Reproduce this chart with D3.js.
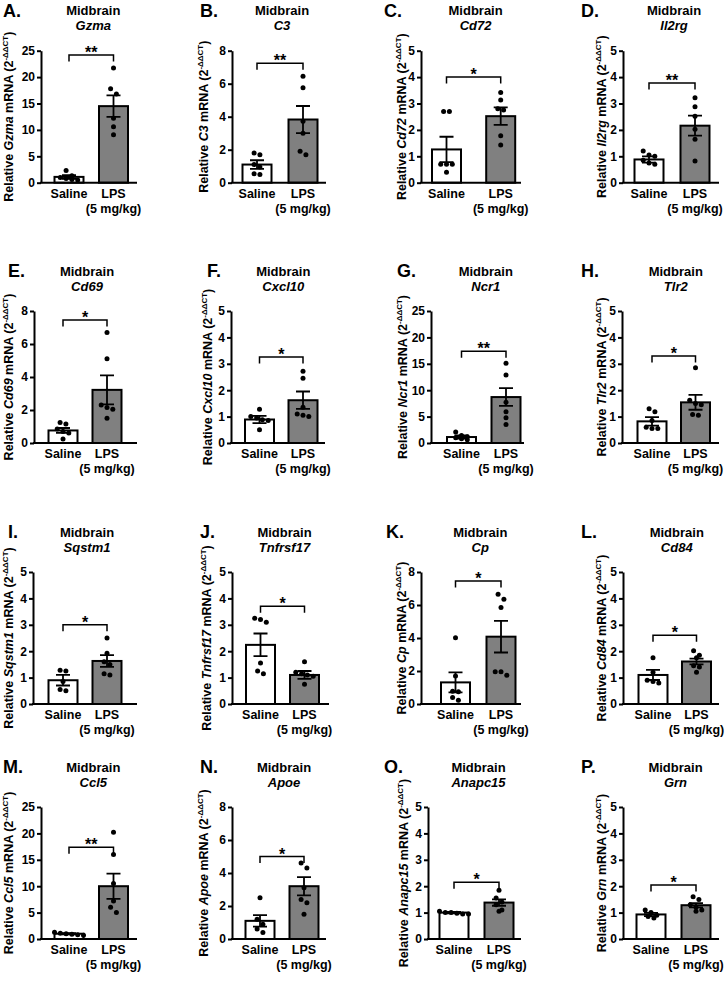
<!DOCTYPE html>
<html><head><meta charset="utf-8">
<script src="https://cdn.jsdelivr.net/npm/d3@7"></script>
<style>
body{margin:0;background:#fff;}
text{font-family:"Liberation Sans",Arial,Helvetica,sans-serif;font-weight:bold;fill:#000;}
</style></head><body>
<svg id="chart" width="727" height="996"></svg>
<script>
// ---------- data ----------
const panelLetters = ["A.","B.","C.","D.","E.","F.","G.","H.","I.","J.","K.","L.","M.","N.","O.","P."];
const region = "Midbrain";
const genes = ["Gzma","C3","Cd72","Il2rg","Cd69","Cxcl10","Ncr1","Tlr2","Sqstm1","Tnfrsf17","Cp","Cd84","Ccl5","Apoe","Anapc15","Grn"];
const groups = ["Saline","LPS"];
const groupLabels = [["Saline"],["LPS","(5 mg/kg)"]];
const yMax  = [25,8,5,5, 8,5,25,5, 5,5,8,5, 25,8,5,5];
const yStep = [5,2,1,1, 2,1,5,1, 1,1,2,1, 5,2,1,1];
const salineMean = [1.1,1.1,1.26,0.88, 0.76,0.89,1.13,0.82, 0.9,2.24,1.31,1.1, 1.0,1.1,1.0,0.93];
const salineSem  = [0.35,0.26,0.48,0.12, 0.15,0.14,0.3,0.16, 0.2,0.43,0.61,0.19, 0.12,0.35,0.03,0.06];
const lpsMean    = [14.5,3.83,2.52,2.16, 3.22,1.62,8.7,1.54, 1.63,1.1,4.08,1.61, 10.0,3.2,1.38,1.28];
const lpsSem     = [2.05,0.82,0.33,0.38, 0.88,0.33,1.68,0.28, 0.22,0.15,0.96,0.11, 2.4,0.55,0.12,0.08];
const salinePoints = [
  [2.3,1.3,1.0,0.8,0.6,0.5],
  [1.8,1.7,1.1,0.95,0.55,0.5],
  [2.7,2.7,0.7,0.7,0.7,0.4],
  [1.2,1.05,1.0,0.85,0.75,0.7],
  [1.25,1.15,0.85,0.7,0.6,0.25],
  [1.28,1.0,0.95,0.88,0.85,0.5],
  [2.1,1.4,1.2,1.0,0.8,0.6],
  [1.3,1.18,0.85,0.6,0.55,0.55],
  [1.28,1.25,0.85,0.55,0.5],
  [3.25,3.2,3.1,1.55,1.25,1.15],
  [4.02,1.7,0.78,0.75,0.4,0.22],
  [1.75,1.2,0.9,0.85,0.8],
  [1.3,1.1,1.0,0.9,0.8,0.7],
  [2.5,1.2,0.9,0.6,0.4],
  [1.05,1.0,1.0,0.98,0.95,0.95],
  [1.1,1.0,0.9,0.85,0.8]
];
const lpsPoints = [
  [21.7,17.8,16.8,12.2,10.6,9.1],
  [6.45,5.75,3.73,3.0,1.9,1.7],
  [3.42,3.13,2.8,2.75,1.78,1.43],
  [3.22,2.88,2.52,2.02,1.65,0.82],
  [6.7,5.1,2.3,2.15,2.05,1.5],
  [2.72,2.45,1.35,1.1,1.05,1.0],
  [15.1,12.9,7.7,5.9,4.8,3.5],
  [2.85,1.62,1.5,1.45,1.08,1.05],
  [2.5,1.92,1.6,1.5,1.15,1.1],
  [1.6,1.2,1.15,1.1,1.05,0.75],
  [6.65,6.35,5.85,1.95,1.95,1.75],
  [2.02,1.85,1.75,1.45,1.4,1.2],
  [20.2,16.0,10.5,7.2,6.0,5.0],
  [4.6,4.3,3.1,2.4,2.2,1.5],
  [1.85,1.55,1.4,1.3,1.1,1.05],
  [1.6,1.5,1.3,1.2,1.1,1.05]
];
const sigLabels = ["**","**","*","**","*","*","**","*","*","*","*","*","**","*","*","*"];
const bracketAt = [24.2,7.24,4.0,3.78, 7.45,3.26,17.4,3.3, 3.0,3.7,7.45,2.6, 17.4,5.0,2.15,2.05];

// ---------- layout (pixels) ----------
const rowTop = [50.7, 311, 572, 807];
const plotH = 132;
// axis x, saline centre, LPS centre, x-axis end, letter x, y-title centre x
const layout = [
  {axis:41, sal:69, lps:113.5, end:137, letter:3, title:9},
  {axis:232, sal:257, lps:303, end:326, letter:200, title:204},
  {axis:421, sal:446.5, lps:500.7, end:521, letter:384, title:402},
  {axis:623, sal:649, lps:695, end:719, letter:581, title:602},
  {axis:34, sal:63, lps:107, end:137, letter:8, title:9},
  {axis:231, sal:259.5, lps:303, end:325, letter:207, title:208},
  {axis:431, sal:461.5, lps:506, end:524, letter:397, title:403},
  {axis:622, sal:652, lps:695.5, end:719, letter:581, title:602},
  {axis:33, sal:63, lps:107, end:137, letter:8, title:9},
  {axis:232, sal:260.5, lps:304.5, end:329, letter:200, title:207},
  {axis:421, sal:455.5, lps:501, end:521, letter:386, title:402},
  {axis:623, sal:653, lps:696.5, end:719, letter:581, title:602},
  {axis:41, sal:69, lps:113.5, end:137, letter:3, title:9},
  {axis:232, sal:260, lps:304, end:326, letter:200, title:204},
  {axis:428, sal:454, lps:499, end:521, letter:384, title:404},
  {axis:623, sal:651, lps:696, end:719, letter:581, title:602}
];
const barW = 29, capW = 14, R = 2.5;
const FONT = '"Liberation Sans",Arial,Helvetica,sans-serif';

const svg = d3.select("#chart");

function dodge(vals, y, cx) {
  const sorted = vals.map(v => ({v, py: y(v)})).sort((a,b)=>a.py-b.py);
  const out = [];
  let i = 0;
  const gap = 2*R + 0.8;
  while (i < sorted.length) {
    const cl = [sorted[i]];
    let j = i+1;
    while (j < sorted.length && sorted[j].py - sorted[i].py < gap) { cl.push(sorted[j]); j++; }
    cl.forEach((p,k)=> out.push({px: cx + (k - (cl.length-1)/2)*gap, py: p.py}));
    i = j;
  }
  return out;
}

genes.forEach((gene, i) => {
  const L = layout[i];
  const row = Math.floor(i/4);
  const top = rowTop[row], zero = top + plotH;
  const y = d3.scaleLinear().domain([0, yMax[i]]).range([zero, top]);
  const x = d3.scalePoint().domain(groups).range([L.sal, L.lps]);
  const g = svg.append("g");
  const means = [salineMean[i], lpsMean[i]];
  const sems = [salineSem[i], lpsSem[i]];
  const pts = [salinePoints[i], lpsPoints[i]];

  // bars
  g.selectAll("rect.bar").data(groups).join("rect")
    .attr("x", d => x(d) - barW/2)
    .attr("y", (d,k) => y(means[k]))
    .attr("width", barW)
    .attr("height", (d,k) => zero - y(means[k]))
    .attr("fill", (d,k) => k === 0 ? "#ffffff" : "#808080")
    .attr("stroke", "#000").attr("stroke-width", 2);

  // error bars
  groups.forEach((grp, k) => {
    const cx = x(grp), lo = y(means[k]-sems[k]), hi = y(means[k]+sems[k]);
    g.append("path")
      .attr("d", `M${cx},${lo}V${hi}M${cx-capW/2},${hi}H${cx+capW/2}M${cx-capW/2},${lo}H${cx+capW/2}`)
      .attr("stroke","#000").attr("stroke-width",1.8).attr("fill","none");
  });

  // y axis
  const ax = g.append("g").attr("transform", `translate(${L.axis},0)`)
    .call(d3.axisLeft(y).tickValues(d3.range(0, yMax[i] + 1e-9, yStep[i]))
      .tickFormat(d3.format("d")).tickSize(4).tickSizeOuter(0).tickPadding(2));
  ax.attr("font-size", 12).attr("font-family", FONT);
  ax.select(".domain").attr("stroke","#000").attr("stroke-width",2);
  ax.selectAll(".tick line").attr("stroke","#000").attr("stroke-width",2);
  ax.selectAll(".tick text").attr("fill","#000");

  // x axis
  g.append("line").attr("x1", L.axis-1).attr("x2", L.end).attr("y1", zero).attr("y2", zero)
    .attr("stroke","#000").attr("stroke-width",2);

  // points
  groups.forEach((grp, k) => {
    const dp = dodge(pts[k], y, x(grp));
    g.selectAll(null).data(dp).join("circle")
      .attr("cx", d => d.px).attr("cy", d => d.py).attr("r", R).attr("fill","#000");
  });

  // x labels
  groups.forEach((grp, k) => {
    groupLabels[k].forEach((t, m) => {
      g.append("text").attr("x", x(grp)).attr("y", zero + 11 + m*15).attr("dy","0.35em")
        .attr("text-anchor","middle").attr("font-size",12.5).text(t);
    });
  });

  // significance bracket
  const by = y(bracketAt[i]);
  g.append("path").attr("d", `M${x("Saline")},${by+6.5}V${by}H${x("LPS")}V${by+6.5}`)
    .attr("stroke","#000").attr("stroke-width",1.5).attr("fill","none");
  g.append("text").attr("x", (x("Saline")+x("LPS"))/2).attr("y", by + 3)
    .attr("text-anchor","middle").attr("font-size",16).text(sigLabels[i]);

  // titles
  const mid = (L.sal + L.lps)/2 + 2;
  g.append("text").attr("x", mid).attr("y", top - 40).attr("dy","0.35em")
    .attr("text-anchor","middle").attr("font-size",13).text(region);
  g.append("text").attr("x", mid).attr("y", top - 25).attr("dy","0.35em")
    .attr("text-anchor","middle").attr("font-size",13).attr("font-style","italic").text(gene);
  g.append("text").attr("x", L.letter).attr("y", top - 40).attr("dy","0.35em")
    .attr("font-size",18).text(panelLetters[i]);

  // y title
  const yt = g.append("text")
    .attr("transform", `translate(${L.title},${(top+zero)/2}) rotate(-90)`)
    .attr("text-anchor","middle").attr("dy","0.35em").attr("font-size",12.5);
  yt.append("tspan").text("Relative ");
  yt.append("tspan").attr("font-style","italic").text(gene);
  yt.append("tspan").text(" mRNA (2");
  yt.append("tspan").attr("font-size",8).attr("dy",-5).text("-ΔΔCT");
  yt.append("tspan").attr("font-size",12.5).attr("dy",5).text(")");
});
</script>
</body></html>
